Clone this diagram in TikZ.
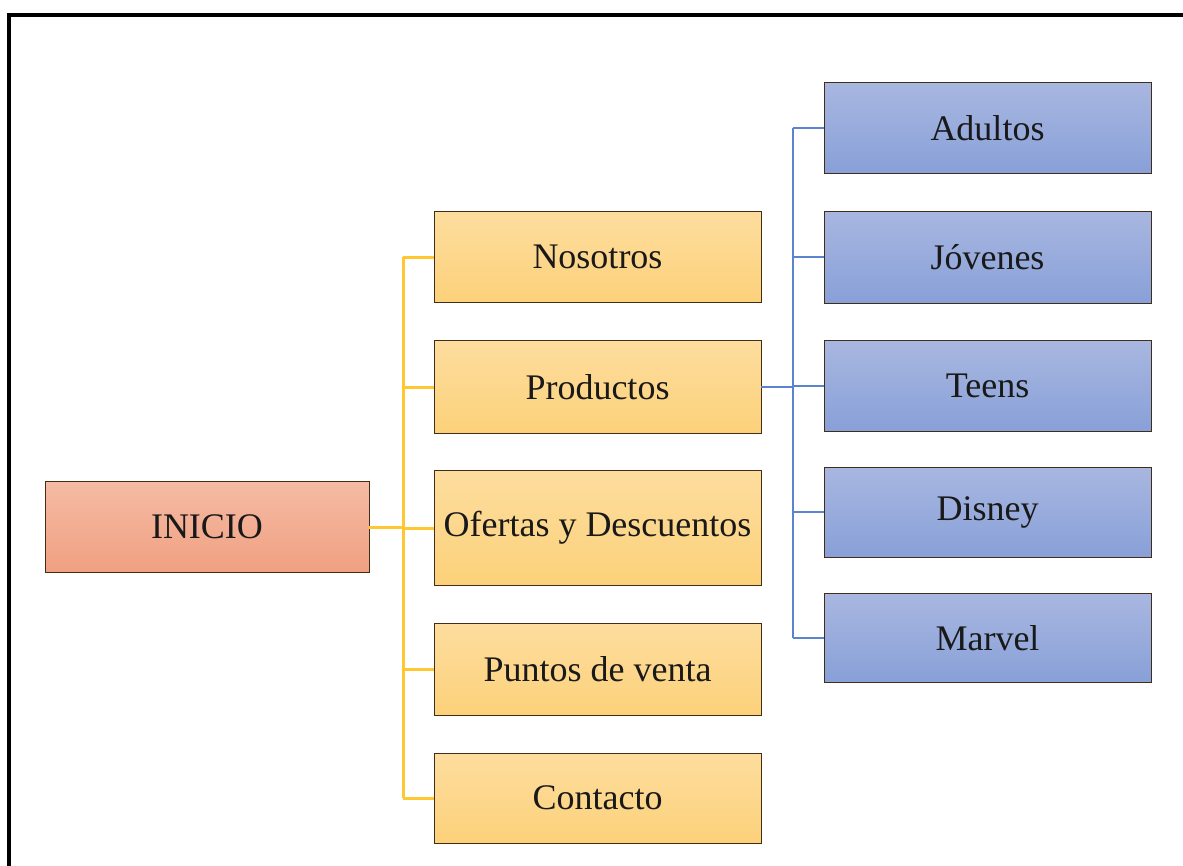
\documentclass[tikz,border=0pt]{standalone}
\usepackage{fontspec}
\setmainfont{Liberation Serif}
\begin{document}
\begin{tikzpicture}[x=1pt,y=-1pt,
  box/.style={draw=black!65!brown, line width=0.9pt, minimum width=327pt, minimum height=91pt, inner sep=0pt, font=\fontsize{36}{40}\selectfont, text=black!90},
  rootbox/.style={box, top color=inicioTop, bottom color=inicioBot},
  obox/.style={box, top color=oTop, bottom color=oBot},
  bbox/.style={box, top color=bTop, bottom color=bBot},
  yline/.style={draw=yLine, line width=3pt},
  bline/.style={draw=bLine, line width=2.5pt}]
\definecolor{inicioTop}{HTML}{F5BBA4}
\definecolor{inicioBot}{HTML}{F0A081}
\definecolor{oTop}{HTML}{FDDD9E}
\definecolor{oBot}{HTML}{FCD17A}
\definecolor{bTop}{HTML}{A8B7E0}
\definecolor{bBot}{HTML}{88A0D8}
\definecolor{yLine}{HTML}{FFC830}
\definecolor{bLine}{HTML}{5B84CF}
\useasboundingbox (0,0) rectangle (1183,865);
\clip (0,0) rectangle (1183,865);
\fill[white] (0,0) rectangle (1183,865);
\draw[line width=4.5pt, black] (9,15) rectangle (1220,900);

\node[rootbox, minimum width=324pt, minimum height=91pt] (inicio) at (207,527) {INICIO};

\node[obox] (nosotros) at (597.5,257) {Nosotros};
\node[obox, minimum height=93pt] (productos) at (597.5,387) {Productos};
\node[obox, minimum height=115pt] (ofertas) at (597.5,528) {Ofertas y Descuentos};
\node[obox, minimum height=92pt] (puntos) at (597.5,669) {Puntos de venta};
\node[obox, minimum height=90pt] (contacto) at (597.5,798) {Contacto};

\node[bbox] (adultos) at (987.5,128) {Adultos};
\node[bbox, minimum height=92pt] (jovenes) at (987.5,257) {Jóvenes};
\node[bbox] (teens) at (987.5,386) {Teens};
\node[bbox, minimum height=90pt] (disney) at (987.5,512) {Disney};
\node[bbox, minimum height=89pt] (marvel) at (987.5,638) {Marvel};

\coordinate (jy) at (403,0);
\coordinate (jb) at (793,0);

% yellow connectors
\draw[yline] (inicio.east) -- (inicio.east -| jy);
\draw[yline] (jy |- nosotros.west) -- (jy |- contacto.west);
\foreach \n in {nosotros,productos,ofertas,puntos,contacto}
  \draw[yline] (jy |- \n.west) -- (\n.west);

% blue connectors
\draw[bline] (productos.east) -- (productos.east -| jb);
\draw[bline] (jb |- adultos.west) -- (jb |- marvel.west);
\foreach \n in {adultos,jovenes,teens,disney,marvel}
  \draw[bline] (jb |- \n.west) -- (\n.west);
\end{tikzpicture}
\end{document}
